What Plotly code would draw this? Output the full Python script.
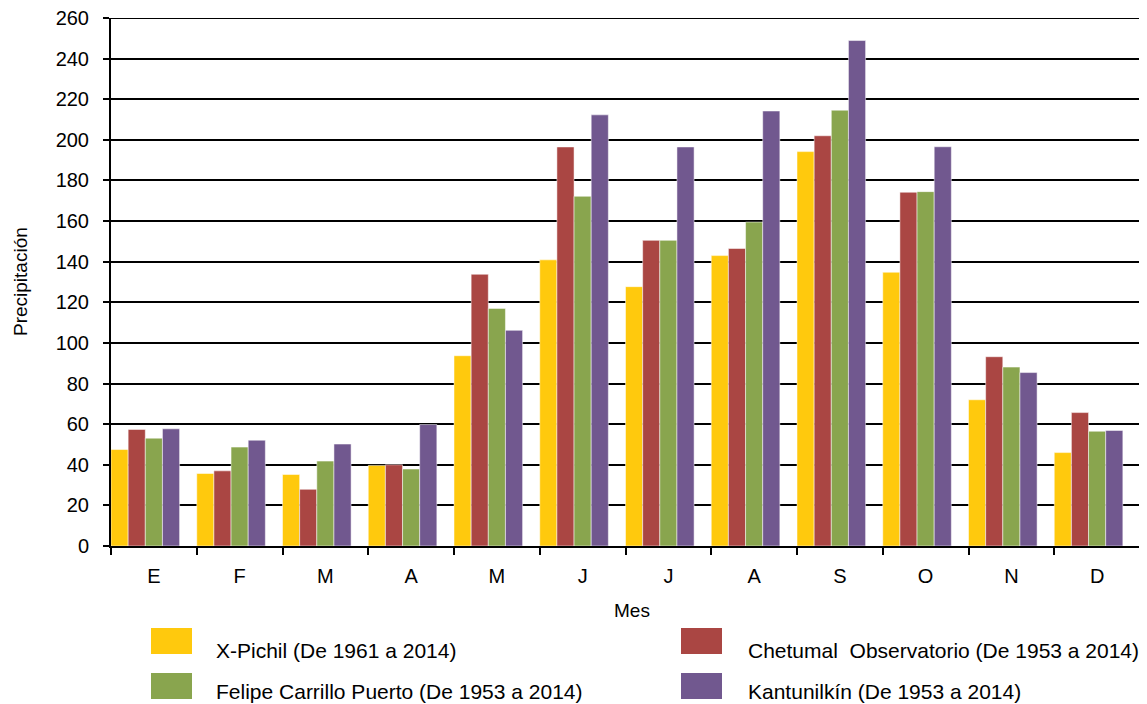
import plotly.graph_objects as go

meses = ["E", "F", "M", "A", "M", "J", "J", "A", "S", "O", "N", "D"]
estaciones = [
    "X-Pichil (De 1961 a 2014)",
    "Chetumal  Observatorio (De 1953 a 2014)",
    "Felipe Carrillo Puerto (De 1953 a 2014)",
    "Kantunilkín (De 1953 a 2014)",
]
x_pichil = [47.5, 35.7, 35.2, 39.7, 93.7, 140.9, 127.7, 143.0, 194.2, 134.8, 72.0, 46.0]
chetumal = [57.4, 37.0, 27.9, 40.0, 133.8, 196.5, 150.5, 146.5, 202.0, 174.2, 93.2, 65.7]
felipe = [53.1, 48.7, 41.8, 37.9, 117.0, 172.2, 150.5, 159.5, 214.6, 174.5, 88.1, 56.5]
kantunilkin = [57.7, 52.1, 50.2, 59.8, 106.2, 212.3, 196.5, 214.2, 248.9, 196.6, 85.4, 56.9]
colores = ["#FFC90D", "#AA4643", "#89A54E", "#71588F"]

# the page body has an 8px margin, so work in screen pixels and shift
OFF = 8
W, H = 1147 - OFF, 704 - OFF
L, R, T, B = 111 - OFF, 7, 18 - OFF, 158
pw, ph = W - L - R, H - T - B

def px(x):
    return (x - OFF - L) / pw

def py(y):
    return (H - B - (y - OFF)) / ph

FONT = "Liberation Sans, Arial, sans-serif"
pos = list(range(len(meses)))

fig = go.Figure()
series = [x_pichil, chetumal, felipe, kantunilkin]
for i, vals in enumerate(series):
    fig.add_trace(go.Bar(
        x=pos, y=vals, name=estaciones[i],
        width=0.2, offset=-0.5 + 0.2 * i,
        marker=dict(color=colores[i], line=dict(color="rgba(255,255,255,0.5)", width=1)),
        showlegend=False,
    ))

fig.update_layout(
    width=W, height=H,
    margin=dict(l=L, r=R, t=T, b=B),
    plot_bgcolor="white", paper_bgcolor="white",
    font=dict(family=FONT, size=20, color="black"),
    barmode="group",
)
fig.update_xaxes(
    range=[-0.5, len(meses) - 0.5], automargin=False,
    tickvals=pos, ticktext=meses, ticks="",
    ticklabelstandoff=11,
    showline=True, linecolor="black", linewidth=2,
    showgrid=False, zeroline=False,
    minor=dict(tickvals=[p - 0.5 for p in pos] + [len(meses) - 0.5],
               ticks="outside", ticklen=7, tickwidth=2, tickcolor="black", showgrid=False),
)
fig.update_yaxes(
    range=[0, 260], dtick=20, automargin=False,
    ticks="outside", ticklen=6, tickwidth=2, tickcolor="black",
    ticklabelstandoff=10, ticklabeloverflow="allow",
    showline=True, linecolor="black", linewidth=2,
    showgrid=True, gridcolor="black", gridwidth=2, zeroline=False,
)

anns = [
    dict(text="Precipitación", x=px(20), y=0.5, textangle=-90, font=dict(size=19)),
    dict(text="Mes", x=px(632), y=py(610), font=dict(size=19)),
]
# top gridline at 260 sits on the plot edge; draw it explicitly
shapes = [dict(type="line", xref="paper", yref="y", x0=0, x1=1, y0=260, y1=260,
               line=dict(color="black", width=2))]
leg = [(151, 628, 214, 650), (681, 628, 746, 650), (151, 673, 214, 692), (681, 673, 746, 692)]
for i, (sx, sy, tx, ty) in enumerate(leg):
    shapes.append(dict(type="rect", xref="paper", yref="paper",
                       x0=px(sx), x1=px(sx + 41), y0=py(sy), y1=py(sy + 26),
                       fillcolor=colores[i], line=dict(width=0)))
    anns.append(dict(text=estaciones[i].replace("  ", " \u00a0"), x=px(tx), y=py(ty),
                     xanchor="left", font=dict(size=21)))
for a in anns:
    a.setdefault("xanchor", "center")
    a.update(xref="paper", yref="paper", showarrow=False, yanchor="middle")
fig.update_layout(annotations=anns, shapes=shapes)

fig.write_html("out.html")
